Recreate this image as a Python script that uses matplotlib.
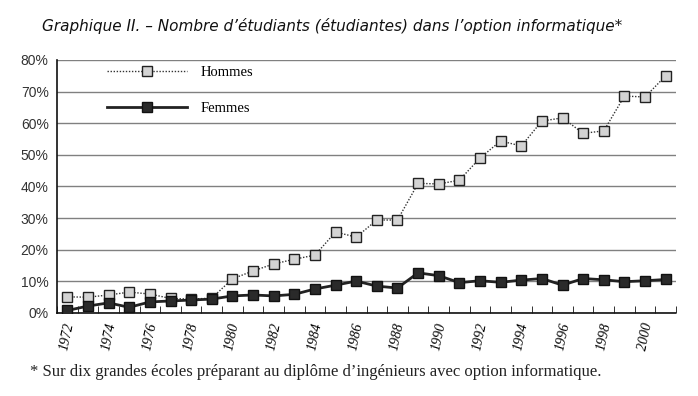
import matplotlib.pyplot as plt
from matplotlib.ticker import FixedLocator, FuncFormatter

years = list(range(1972, 2002))
hommes = [5.1, 5.0, 5.7, 6.6, 6.0, 4.6, 4.4, 4.7, 10.8, 13.3, 15.5, 17.0, 18.3, 25.6, 24.0,
          29.4, 29.4, 41.0, 40.8, 42.0, 49.0, 54.4, 52.8, 60.7, 61.7, 56.8, 57.6, 68.6, 68.3, 75.0]
femmes = [0.8, 2.2, 3.2, 1.8, 3.5, 3.8, 4.1, 4.4, 5.4, 5.7, 5.4, 5.9, 7.6, 8.8, 10.1,
          8.5, 7.9, 12.7, 11.8, 9.6, 10.2, 9.7, 10.4, 10.9, 8.8, 10.9, 10.5, 9.9, 10.2, 10.6]
yticks = [0, 10, 20, 30, 40, 50, 60, 70, 80]

TITLE = "Graphique II. \u2013 Nombre d\u2019\u00e9tudiants (\u00e9tudiantes) dans l\u2019option informatique*"
NOTE = "* Sur dix grandes \u00e9coles pr\u00e9parant au dipl\u00f4me d\u2019ing\u00e9nieurs avec option informatique."

fig = plt.figure(figsize=(6.98, 3.96), dpi=100)
ax = fig.add_axes([0.0817, 0.2096, 0.8868, 0.6389])

x = list(range(len(years)))
ax.plot(x, hommes, color="#333333", lw=1.0, ls=(0, (1, 1.2)), marker="s", ms=7.5,
        mfc="#d4d4d4", mec="#222222", mew=1.0, label="Hommes", zorder=3)
ax.plot(x, femmes, color="#222222", lw=2.0, ls="-", marker="s", ms=7.5,
        mfc="#2a2a2a", mec="#111111", mew=1.0, label="Femmes", zorder=4)

ax.set_xlim(-0.5, len(years) - 0.5)
ax.set_ylim(0, 80)
ax.set_yticks(yticks)
ax.yaxis.set_major_formatter(FuncFormatter(lambda v, p: f"{int(v)}%"))
ax.grid(axis="y", color="#808080", lw=1.0)
ax.set_axisbelow(True)

ax.xaxis.set_major_locator(FixedLocator(x[::2]))
ax.set_xticklabels([str(y) for y in years[::2]], rotation=78, fontstyle="italic",
                   family="Liberation Serif", fontsize=10)
ax.xaxis.set_minor_locator(FixedLocator([i - 0.5 for i in range(len(years) + 1)]))
ax.tick_params(axis="x", which="major", length=0, pad=6)
ax.tick_params(axis="x", which="minor", direction="in", length=5, color="#111111")
ax.tick_params(axis="y", length=0, labelsize=10, pad=6)
for lab in ax.get_yticklabels():
    lab.set_family("Liberation Sans")
    lab.set_color("#333333")

for s in ("top", "right"):
    ax.spines[s].set_visible(False)
for s in ("left", "bottom"):
    ax.spines[s].set_linestyle((0, (2, 1)))
    ax.spines[s].set_color("#111111")
    ax.spines[s].set_linewidth(1.2)

leg = ax.legend(loc="upper left", bbox_to_anchor=(0.06, 1.03), frameon=False,
                handlelength=5.5, labelspacing=1.6, handletextpad=0.9,
                prop={"family": "Liberation Serif", "size": 10.5})

fig.text(0.06, 0.935, TITLE, fontsize=11, style="italic",
         family="DejaVu Sans", color="#111111", ha="left", va="center")
fig.text(0.043, 0.06, NOTE, fontsize=12, family="Liberation Serif",
         color="#222222", ha="left", va="center")

fig.savefig("out.png", dpi=100)
